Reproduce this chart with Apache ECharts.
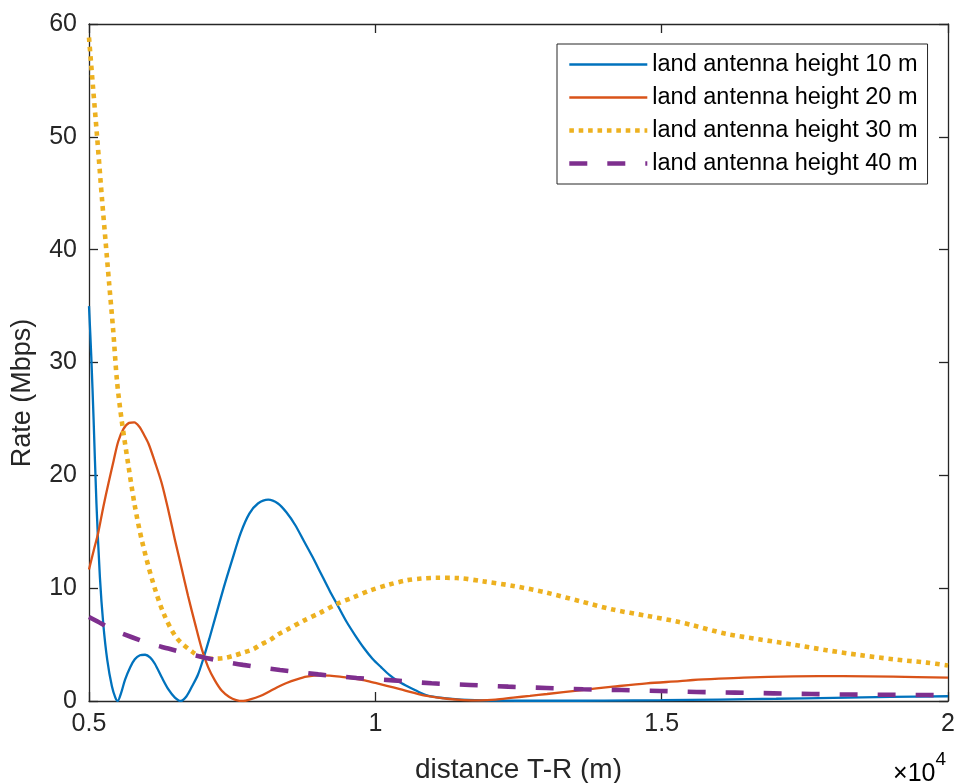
<!DOCTYPE html>
<html>
<head>
<meta charset="utf-8">
<script src="https://cdn.jsdelivr.net/npm/echarts@6/dist/echarts.min.js"></script>
<style>
html,body{margin:0;padding:0;background:#fff;}
#chart{width:956px;height:783px;}
</style>
</head>
<body>
<div id="chart"></div>
<script>
// ---- data ----
var seriesNames = ['land antenna height 10 m','land antenna height 20 m','land antenna height 30 m','land antenna height 40 m'];
var xTicks = [5000, 10000, 15000, 20000];
var yTicks = [0, 10, 20, 30, 40, 50, 60];

var dist10 = [5000,5040,5080,5130,5190,5250,5320,5400,5460,5500,5560,5630,5720,5800,5890,5980,6070,6150,6270,6390,6500,6600,6700,6800,6900,7000,7100,7200,7350,7500,7650,7800,7950,8130,8300,8450,8600,8750,8900,9050,9200,9350,9500,9650,9800,9950,10100,10250,10400,10550,10700,10900,11200,11500,12000,13000,14000,15000,16000,17000,18000,19000,20000];
var rate10 = [35.0,30.5,25.0,17.5,11.0,6.8,3.6,1.3,0.3,0.0,0.7,1.9,3.0,3.7,4.05,4.1,3.85,3.3,2.1,1.0,0.3,0.0,0.4,1.3,2.3,3.8,5.5,7.3,10.0,12.5,14.9,16.6,17.5,17.85,17.5,16.7,15.6,14.2,12.8,11.3,9.8,8.4,7.0,5.8,4.7,3.75,3.0,2.3,1.75,1.33,0.95,0.5,0.25,0.12,0.04,0.02,0.03,0.07,0.13,0.2,0.28,0.36,0.42];

var dist20 = [5000,5080,5160,5250,5340,5430,5510,5600,5700,5790,5880,5960,6040,6150,6270,6390,6500,6620,6730,6850,6970,7080,7200,7320,7450,7570,7690,7800,7990,8150,8280,8450,8630,8800,9030,9200,9380,9600,9790,10000,10200,10430,10660,10900,11250,11550,11830,12100,12410,12700,13000,13570,14150,14740,15320,15550,16000,16430,17300,18170,19040,20000];
var rate20 = [11.65,13.3,14.9,17.2,19.3,21.3,23.0,24.1,24.65,24.7,24.3,23.6,22.8,21.2,19.3,16.8,14.3,11.7,9.3,6.9,4.6,3.0,1.8,0.9,0.35,0.08,0.0,0.12,0.44,0.85,1.2,1.6,1.92,2.15,2.27,2.25,2.16,2.0,1.86,1.6,1.35,1.05,0.74,0.45,0.2,0.08,0.05,0.12,0.3,0.45,0.62,0.95,1.27,1.57,1.76,1.86,1.98,2.07,2.18,2.2,2.16,2.07];

var dist30 = [5000,5070,5140,5230,5290,5350,5420,5490,5570,5690,5800,5920,6100,6300,6530,6820,7000,7170,7350,7520,7700,7870,8000,8160,8300,8450,8740,9030,9330,9620,9910,10230,10550,10800,11070,11420,11890,12410,12990,13570,14150,14740,15260,15550,16130,16720,17300,17880,18460,19040,19630,20000];
var rate30 = [58.8,54.4,50.1,44.3,40.7,37.1,33.0,28.3,24.9,20.8,17.3,14.3,10.8,7.8,5.6,4.3,3.85,3.75,3.8,4.0,4.3,4.6,5.0,5.4,5.9,6.3,7.1,7.8,8.6,9.2,9.8,10.3,10.7,10.85,10.92,10.9,10.6,10.2,9.6,8.85,8.1,7.55,7.05,6.7,5.95,5.45,5.0,4.5,4.07,3.7,3.4,3.15];

var dist40 = [5000,5150,5400,5750,6050,6385,6700,7025,7350,7690,8335,9004,9673,10313,10983,11653,12322,12991,13631,14301,14970,15610,16280,16950,17620,18290,18950,19610,20000];
var rate40 = [7.45,7.05,6.35,5.65,5.1,4.65,4.22,3.84,3.5,3.2,2.75,2.36,2.04,1.83,1.57,1.42,1.27,1.15,1.04,0.97,0.89,0.8,0.74,0.68,0.62,0.57,0.55,0.53,0.5];

function pairs(xs, ys){ return xs.map(function(x,i){ return [x, ys[i]]; }); }

var FONT = '"Liberation Sans", Arial, Helvetica, sans-serif';
var TXT = '#262626';
var colors = ['#0072BD', '#D95319', '#EDB120', '#7E2F8E'];
var styles = [
  {width: 2.3, type: 'solid'},
  {width: 2.3, type: 'solid'},
  {width: 4.6, type: [4.6, 4.8]},
  {width: 4.6, type: [18, 20]}
];
var datasets = [pairs(dist10, rate10), pairs(dist20, rate20), pairs(dist30, rate30), pairs(dist40, rate40)];

var chart = echarts.init(document.getElementById('chart'), null, {renderer:'canvas'});
var axisLineStyle = {color: TXT, width: 1.3};

var option = {
  backgroundColor: '#ffffff',
  animation: false,
  textStyle: {fontFamily: FONT},
  grid: {left: 89, right: 8, top: 24, bottom: 82, containLabel: false, outerBoundsMode: 'none'},
  legend: {
    orient: 'vertical',
    left: 557, top: 44,
    padding: [4, 10, 4, 10],
    itemGap: 0,
    itemWidth: 78, itemHeight: 2,
    backgroundColor: '#ffffff',
    borderColor: TXT, borderWidth: 1, borderRadius: 0,
    itemStyle: {opacity: 0},
    textStyle: {fontFamily: FONT, fontSize: 23.5, color: '#000', lineHeight: 33},
    data: seriesNames.map(function(n, i){
      return {name: n, lineStyle: {width: styles[i].width, type: styles[i].type, color: colors[i], cap: 'butt', opacity: 1}};
    })
  },
  xAxis: [{
    type: 'value', min: xTicks[0], max: xTicks[xTicks.length-1], interval: 5000,
    axisLine: {show: true, lineStyle: axisLineStyle},
    axisTick: {show: true, inside: true, length: 9, lineStyle: axisLineStyle},
    splitLine: {show: false},
    axisLabel: {fontFamily: FONT, fontSize: 25, color: TXT, margin: 11,
      formatter: function(v){ return String(v/10000); }},
    name: 'distance T-R (m)', nameLocation: 'middle', nameGap: 55,
    nameTextStyle: {fontFamily: FONT, fontSize: 28, color: TXT}
  },{
    type: 'value', position: 'top', min: xTicks[0], max: xTicks[xTicks.length-1], interval: 5000,
    axisLine: {show: true, onZero: false, lineStyle: axisLineStyle},
    axisTick: {show: true, inside: true, length: 9, lineStyle: axisLineStyle},
    axisLabel: {show: false}, splitLine: {show: false}
  }],
  yAxis: [{
    type: 'value', min: yTicks[0], max: yTicks[yTicks.length-1], interval: 10,
    axisLine: {show: true, lineStyle: axisLineStyle},
    axisTick: {show: true, inside: true, length: 9, lineStyle: axisLineStyle},
    splitLine: {show: false},
    axisLabel: {fontFamily: FONT, fontSize: 25, color: TXT, margin: 12}
  },{
    type: 'value', position: 'right', min: yTicks[0], max: yTicks[yTicks.length-1], interval: 10,
    axisLine: {show: true, onZero: false, lineStyle: axisLineStyle},
    axisTick: {show: true, inside: true, length: 9, lineStyle: axisLineStyle},
    axisLabel: {show: false}, splitLine: {show: false}
  }],
  graphic: [{
    type: 'text', x: 23, y: 393, rotation: Math.PI / 2,
    style: {text: 'Rate (Mbps)', fontFamily: FONT, fontSize: 27, fill: TXT, align: 'center', verticalAlign: 'middle'}
  },{
    type: 'text', right: 10, top: 750,
    style: {
      text: '{a|×10}{b|4}',
      rich: {
        a: {fontFamily: FONT, fontSize: 25, color: TXT, verticalAlign: 'bottom', padding: [12,0,0,0]},
        b: {fontFamily: FONT, fontSize: 19, color: TXT, verticalAlign: 'top'}
      }
    }
  }],
  series: datasets.map(function(d, i){
    return {name: seriesNames[i], type: 'line', data: d, showSymbol: false, symbol: 'none', smooth: 0.3,
      color: colors[i], lineStyle: {color: colors[i], width: styles[i].width, type: styles[i].type, cap: 'butt'}};
  })
};
chart.setOption(option);
</script>
</body>
</html>
